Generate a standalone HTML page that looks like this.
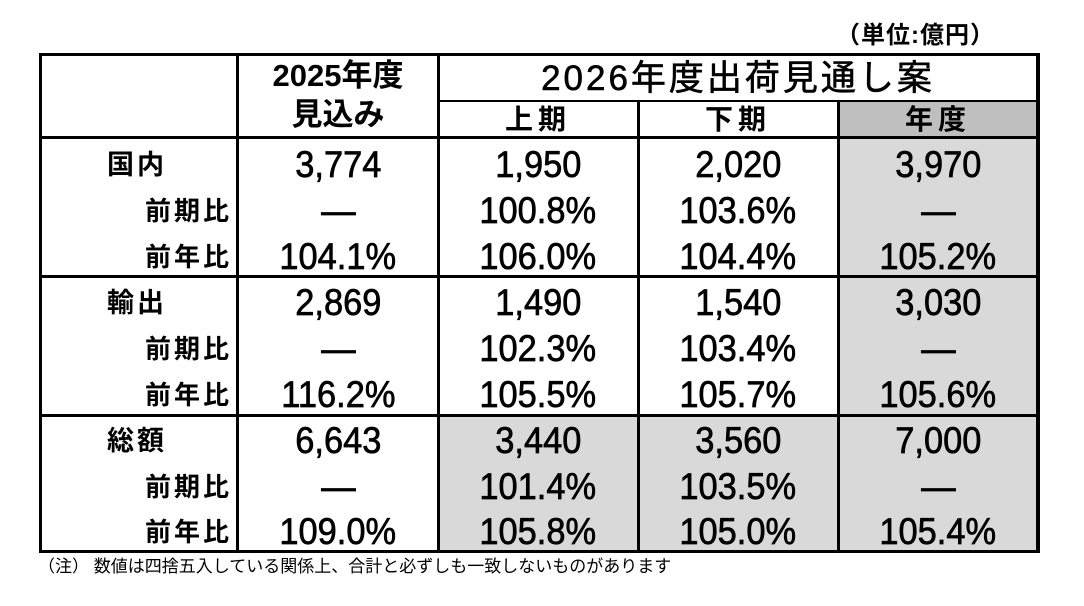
<!DOCTYPE html>
<html><head><meta charset="utf-8"><style>
body{margin:0;width:1084px;height:606px;background:#fff;position:relative;overflow:hidden;font-family:"Liberation Sans","Noto Sans CJK JP",sans-serif;color:#000}
.a{position:absolute}
.g{background:#d9d9d9}
.h{background:#bfbfbf}
.t{position:absolute;text-align:center;font-size:37px;line-height:46px;height:46px;width:200px;-webkit-text-stroke:0.7px #000}
.t span{display:inline-block;transform:scaleX(0.93)}
.l{position:absolute;font-size:27px;font-weight:bold;line-height:46px;letter-spacing:3px}
.r{position:absolute;font-size:26px;font-weight:bold;line-height:46px;text-align:right;width:192px;left:40px;letter-spacing:3px}
.ln{position:absolute;background:#000;z-index:5}
</style></head><body>
<div class="a" style="left:836px;top:22px;font-size:24px;font-weight:bold;letter-spacing:1px;line-height:28px">（単位:億円）</div>
<div class="a h" style="left:838px;top:101px;width:200px;height:37px"></div>
<div class="a g" style="left:838px;top:138px;width:200px;height:414px"></div>
<div class="a g" style="left:438px;top:415px;width:400px;height:137px"></div>
<div class="ln" style="left:39px;top:53px;width:1001px;height:3px"></div>
<div class="ln" style="left:39px;top:550px;width:1001px;height:3px"></div>
<div class="ln" style="left:39px;top:53px;width:3px;height:500px"></div>
<div class="ln" style="left:1036px;top:53px;width:4px;height:500px"></div>
<div class="ln" style="left:236px;top:53px;width:3px;height:500px"></div>
<div class="ln" style="left:437px;top:53px;width:3px;height:500px"></div>
<div class="ln" style="left:637px;top:100px;width:3px;height:453px"></div>
<div class="ln" style="left:837px;top:100px;width:3px;height:453px"></div>
<div class="ln" style="left:438px;top:100px;width:600px;height:2px"></div>
<div class="ln" style="left:39px;top:136px;width:1001px;height:3px"></div>
<div class="ln" style="left:39px;top:275px;width:1001px;height:3px"></div>
<div class="ln" style="left:39px;top:414px;width:1001px;height:3px"></div>
<div class="a" style="left:238px;width:200px;top:57px;font-size:31px;font-weight:bold;line-height:38px;text-align:center">2025年度</div>
<div class="a" style="left:238px;width:200px;top:96px;font-size:31px;font-weight:bold;line-height:38px;text-align:center">見込み</div>
<div class="a" style="left:438px;width:600px;top:57px;font-size:35px;line-height:44px;letter-spacing:3px;text-align:center;-webkit-text-stroke:0.6px #000">2026年度出荷見通し案</div>
<div class="a" style="left:438px;width:200px;top:101px;font-size:28px;font-weight:bold;line-height:37px;letter-spacing:5px;text-align:center">上期</div>
<div class="a" style="left:638px;width:200px;top:101px;font-size:28px;font-weight:bold;line-height:37px;letter-spacing:5px;text-align:center">下期</div>
<div class="a" style="left:838px;width:200px;top:101px;font-size:28px;font-weight:bold;line-height:37px;letter-spacing:5px;text-align:center">年度</div>
<div class="l" style="left:107px;top:142px">国内</div>
<div class="r" style="top:188px">前期比</div>
<div class="r" style="top:234px">前年比</div>
<div class="t" style="left:238px;top:142px"><span>3,774</span></div>
<div class="t" style="left:238px;top:188px"><span>—</span></div>
<div class="t" style="left:238px;top:234px"><span>104.1%</span></div>
<div class="t" style="left:438px;top:142px"><span>1,950</span></div>
<div class="t" style="left:438px;top:188px"><span>100.8%</span></div>
<div class="t" style="left:438px;top:234px"><span>106.0%</span></div>
<div class="t" style="left:638px;top:142px"><span>2,020</span></div>
<div class="t" style="left:638px;top:188px"><span>103.6%</span></div>
<div class="t" style="left:638px;top:234px"><span>104.4%</span></div>
<div class="t" style="left:838px;top:142px"><span>3,970</span></div>
<div class="t" style="left:838px;top:188px"><span>—</span></div>
<div class="t" style="left:838px;top:234px"><span>105.2%</span></div>
<div class="l" style="left:107px;top:280px">輸出</div>
<div class="r" style="top:326px">前期比</div>
<div class="r" style="top:372px">前年比</div>
<div class="t" style="left:238px;top:280px"><span>2,869</span></div>
<div class="t" style="left:238px;top:326px"><span>—</span></div>
<div class="t" style="left:238px;top:372px"><span>116.2%</span></div>
<div class="t" style="left:438px;top:280px"><span>1,490</span></div>
<div class="t" style="left:438px;top:326px"><span>102.3%</span></div>
<div class="t" style="left:438px;top:372px"><span>105.5%</span></div>
<div class="t" style="left:638px;top:280px"><span>1,540</span></div>
<div class="t" style="left:638px;top:326px"><span>103.4%</span></div>
<div class="t" style="left:638px;top:372px"><span>105.7%</span></div>
<div class="t" style="left:838px;top:280px"><span>3,030</span></div>
<div class="t" style="left:838px;top:326px"><span>—</span></div>
<div class="t" style="left:838px;top:372px"><span>105.6%</span></div>
<div class="l" style="left:107px;top:418px">総額</div>
<div class="r" style="top:464px">前期比</div>
<div class="r" style="top:509px">前年比</div>
<div class="t" style="left:238px;top:418px"><span>6,643</span></div>
<div class="t" style="left:238px;top:464px"><span>—</span></div>
<div class="t" style="left:238px;top:509px"><span>109.0%</span></div>
<div class="t" style="left:438px;top:418px"><span>3,440</span></div>
<div class="t" style="left:438px;top:464px"><span>101.4%</span></div>
<div class="t" style="left:438px;top:509px"><span>105.8%</span></div>
<div class="t" style="left:638px;top:418px"><span>3,560</span></div>
<div class="t" style="left:638px;top:464px"><span>103.5%</span></div>
<div class="t" style="left:638px;top:509px"><span>105.0%</span></div>
<div class="t" style="left:838px;top:418px"><span>7,000</span></div>
<div class="t" style="left:838px;top:464px"><span>—</span></div>
<div class="t" style="left:838px;top:509px"><span>105.4%</span></div>
<div class="a" style="left:38px;top:556px;font-size:17px;line-height:22px">（注） 数値は四捨五入している関係上、合計と必ずしも一致しないものがあります</div>
</body></html>
